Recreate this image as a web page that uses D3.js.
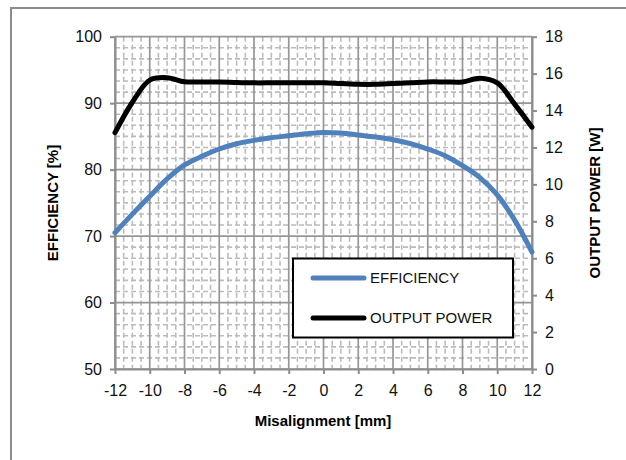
<!DOCTYPE html>
<html>
<head>
<meta charset="utf-8">
<script src="https://cdn.jsdelivr.net/npm/d3@7.9.0/dist/d3.min.js"></script>
<style>
  body { margin: 0; background: #fff; }
  svg { display: block; font-family: "Liberation Sans", Arial, sans-serif; }
</style>
</head>
<body>
<svg id="chart" width="626" height="460"></svg>
<script>
// data
const misalignment = [-12, -11, -10, -9, -8, -7, -6, -5, -4, -3, -2, -1, 0, 1, 2, 3, 4, 5, 6, 7, 8, 9, 10, 11, 12];
const efficiency = [70.5, 73.3, 76.0, 78.6, 80.7, 82.0, 83.1, 83.9, 84.4, 84.8, 85.1, 85.4, 85.6,
                    85.5, 85.2, 84.9, 84.5, 83.9, 83.1, 82.1, 80.6, 78.8, 76.2, 72.4, 67.6];
const outputPower = [12.8, 14.45, 15.65, 15.78, 15.56, 15.55, 15.55, 15.52, 15.5, 15.5, 15.5, 15.5, 15.5,
                     15.46, 15.42, 15.42, 15.46, 15.5, 15.55, 15.55, 15.55, 15.75, 15.5, 14.35, 13.1];
const xTicks = [-12, -10, -8, -6, -4, -2, 0, 2, 4, 6, 8, 10, 12];
const effTicks = [50, 60, 70, 80, 90, 100];
const powerTicks = [0, 2, 4, 6, 8, 10, 12, 14, 16, 18];
const seriesNames = ["EFFICIENCY", "OUTPUT POWER"];

const svg = d3.select("#chart");

// outer frame
svg.append("rect")
  .attr("x", 11).attr("y", 8)
  .attr("width", 700).attr("height", 600)
  .attr("fill", "#fff")
  .attr("stroke", "#8c8c8c")
  .attr("stroke-width", 2);

const x = d3.scaleLinear().domain([-12, 12]).range([115, 532]);
const yL = d3.scaleLinear().domain([50, 100]).range([369, 36.7]);
const yR = d3.scaleLinear().domain([0, 18]).range([369, 36.7]);

// minor gridlines (dashed)
const minorX = d3.range(-12, 12.001, 0.5).filter(v => Math.abs(v % 2) > 0.01);
const minorY = d3.range(0, 30).map(i => 50 + i * 10 / 6).filter((v, i) => i % 6 !== 0);

const grid = svg.append("g");
grid.selectAll(".mx").data(minorX).join("line")
  .attr("x1", d => x(d)).attr("x2", d => x(d))
  .attr("y1", yL(100)).attr("y2", yL(50))
  .attr("stroke", "#bcbcbc").attr("stroke-width", 1.6)
  .attr("stroke-dasharray", "5,3");
grid.selectAll(".my").data(minorY).join("line")
  .attr("x1", x(-12)).attr("x2", x(12))
  .attr("y1", d => yL(d)).attr("y2", d => yL(d))
  .attr("stroke", "#bcbcbc").attr("stroke-width", 1.6)
  .attr("stroke-dasharray", "5,3");

// major gridlines
grid.selectAll(".Mx").data(xTicks).join("line")
  .attr("x1", d => x(d)).attr("x2", d => x(d))
  .attr("y1", yL(100)).attr("y2", yL(50))
  .attr("stroke", "#969696").attr("stroke-width", 1.7);
grid.selectAll(".My").data(effTicks).join("line")
  .attr("x1", x(-12)).attr("x2", x(12))
  .attr("y1", d => yL(d)).attr("y2", d => yL(d))
  .attr("stroke", "#969696").attr("stroke-width", 1.7);

// axes
function styleAxis(g) {
  g.select(".domain").attr("stroke", "#8c8c8c").attr("stroke-width", 2);
  g.selectAll(".tick line").attr("stroke", "#8c8c8c").attr("stroke-width", 2);
  g.selectAll(".tick text").attr("fill", "#111").style("font-size", "16px");
}
const plain = d => String(d);

svg.append("g")
  .attr("transform", `translate(0,${yL(50)})`)
  .call(d3.axisBottom(x).tickValues(xTicks).tickFormat(plain).tickSize(5).tickPadding(11).tickSizeOuter(0))
  .call(styleAxis);

svg.append("g")
  .attr("transform", `translate(${x(-12)},0)`)
  .call(d3.axisLeft(yL).tickValues(effTicks).tickFormat(plain).tickSize(5).tickPadding(8).tickSizeOuter(0))
  .call(styleAxis);

svg.append("g")
  .attr("transform", `translate(${x(12)},0)`)
  .call(d3.axisRight(yR).tickValues(powerTicks).tickFormat(plain).tickSize(5).tickPadding(8).tickSizeOuter(0))
  .call(styleAxis);

// axis titles
svg.append("text")
  .attr("x", 323).attr("y", 426)
  .attr("text-anchor", "middle")
  .style("font-size", "15px").style("font-weight", "bold")
  .text("Misalignment [mm]");

svg.append("text")
  .attr("transform", "translate(58,203) rotate(-90)")
  .attr("text-anchor", "middle")
  .style("font-size", "15px").style("font-weight", "bold")
  .text("EFFICIENCY [%]");

svg.append("text")
  .attr("transform", "translate(600,203) rotate(-90)")
  .attr("text-anchor", "middle")
  .style("font-size", "15px").style("font-weight", "bold")
  .text("OUTPUT POWER [W]");

// series
const effLine = d3.line()
  .x((d, i) => x(misalignment[i]))
  .y(d => yL(d))
  .curve(d3.curveCatmullRom.alpha(0.5));

const powLine = d3.line()
  .x((d, i) => x(misalignment[i]))
  .y(d => yR(d))
  .curve(d3.curveCatmullRom.alpha(0.5));

svg.append("path")
  .attr("d", powLine(outputPower))
  .attr("fill", "none").attr("stroke", "#000")
  .attr("stroke-width", 5).attr("stroke-linecap", "round");

svg.append("path")
  .attr("d", effLine(efficiency))
  .attr("fill", "none").attr("stroke", "#4f81bd")
  .attr("stroke-width", 5).attr("stroke-linecap", "round");

// legend
const legend = svg.append("g");
legend.append("rect")
  .attr("x", 293).attr("y", 258.5)
  .attr("width", 220).attr("height", 79)
  .attr("fill", "#fff").attr("stroke", "#000").attr("stroke-width", 2);

const legendColors = ["#4f81bd", "#000"];
seriesNames.forEach((name, i) => {
  const ly = 278 + i * 40;
  legend.append("line")
    .attr("x1", 313).attr("x2", 364)
    .attr("y1", ly).attr("y2", ly)
    .attr("stroke", legendColors[i]).attr("stroke-width", 5)
    .attr("stroke-linecap", "round");
  legend.append("text")
    .attr("x", 370).attr("y", ly)
    .attr("dy", "0.36em")
    .style("font-size", "15px")
    .attr("fill", "#111")
    .text(name);
});
</script>
</body>
</html>
